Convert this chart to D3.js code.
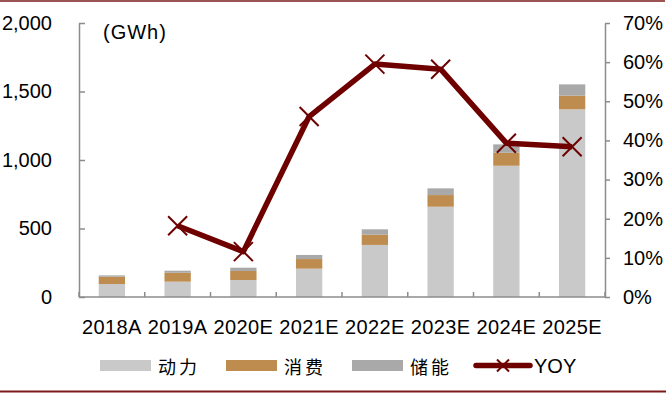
<!DOCTYPE html>
<html>
<head>
<meta charset="utf-8">
<script src="https://cdn.jsdelivr.net/npm/d3@7"></script>
<style>
    body { margin: 0; background: #fff; }
    svg { display: block; }
</style>
</head>
<body>
<svg id="chart" width="668" height="394"></svg>
<script>

var categories = [ '2018A', '2019A', '2020E', '2021E', '2022E', '2023E', '2024E', '2025E' ];

// GWh
var power_values = [ 95, 112, 124, 207, 380, 659, 958, 1370 ];
var consumer_values = [ 53, 65, 66, 70, 75, 85, 95, 100 ];
var storage_values = [ 10, 15, 24, 30, 39, 49, 61, 82 ];

// %
var yoy_values = [ null, 18.2, 11.6, 46.1, 59.5, 58.2, 39.3, 38.4 ];

var left_ticks = [ 0, 500, 1000, 1500, 2000 ];
var right_ticks = [ 0, 10, 20, 30, 40, 50, 60, 70 ];

var series_names = [ '动力', '消费', '储能' ];
var line_name = 'YOY';
var unit_text = '(GWh)';

var _colors = [ '#c9c9c9', '#bf8c4f', '#a9a9a9' ];
var _line_color = '#6e0000';
var _axis_color = '#8c8c8c';
var _text_color = '#000';
var _font = 'Arial, "Liberation Sans", sans-serif';
var _cjk_font = '"Noto Sans CJK SC", sans-serif';

var _svg = d3.select( '#chart' );

var _left = 79, _right = 605, _top = 23, _bottom = 297;

var _x = d3.scaleBand()
    .domain( categories )
    .range( [ _left, _right ] )
    .paddingInner( 0.6 )
    .paddingOuter( 0.3 );

var _y_left = d3.scaleLinear().domain( [ 0, 2000 ] ).range( [ _bottom, _top ] );
var _y_right = d3.scaleLinear().domain( [ 0, 70 ] ).range( [ _bottom, _top ] );

draw_rules();
draw_bars();
draw_axes();
draw_line();
draw_legend();

function draw_rules () {

    _svg.append( 'line' )
        .attr( 'x1', 0 ).attr( 'x2', 665 )
        .attr( 'y1', 1 ).attr( 'y2', 1 )
        .attr( 'stroke', '#7a1a1a' )
        .attr( 'stroke-width', 1.5 );

    _svg.append( 'line' )
        .attr( 'x1', 0 ).attr( 'x2', 666 )
        .attr( 'y1', 391.5 ).attr( 'y2', 391.5 )
        .attr( 'stroke', '#7a1a1a' )
        .attr( 'stroke-width', 2 );

}

function draw_bars () {

    var rows = categories.map( function ( c, i ) {
        return { category: c, power: power_values[ i ], consumer: consumer_values[ i ], storage: storage_values[ i ] };
    });

    var stacked = d3.stack().keys( [ 'power', 'consumer', 'storage' ] )( rows );

    var groups = _svg.append( 'g' )
        .selectAll( 'g' )
        .data( stacked )
        .join( 'g' )
        .attr( 'fill', function ( d, i ) { return _colors[ i ]; } );

    groups.selectAll( 'rect' )
        .data( function ( d ) { return d; } )
        .join( 'rect' )
        .attr( 'x', function ( d ) { return _x( d.data.category ); } )
        .attr( 'width', _x.bandwidth() )
        .attr( 'y', function ( d ) { return _y_left( d[ 1 ] ); } )
        .attr( 'height', function ( d ) { return _y_left( d[ 0 ] ) - _y_left( d[ 1 ] ); } );

}

function draw_axes () {

    // Left axis, ticks point inward
    var left = _svg.append( 'g' )
        .attr( 'transform', 'translate(' + _left + ',0)' )
        .call( d3.axisLeft( _y_left )
            .tickValues( left_ticks )
            .tickSize( -6 )
            .tickSizeOuter( 0 )
            .tickPadding( 27 )
            .tickFormat( d3.format( ',' ) ) );

    // Right axis
    var right = _svg.append( 'g' )
        .attr( 'transform', 'translate(' + _right + ',0)' )
        .call( d3.axisRight( _y_right )
            .tickValues( right_ticks )
            .tickSize( 5 )
            .tickSizeOuter( 0 )
            .tickPadding( 13 )
            .tickFormat( function ( d ) { return d + '%'; } ) );

    // Category labels
    var bottom = _svg.append( 'g' )
        .attr( 'transform', 'translate(0,' + _bottom + ')' )
        .call( d3.axisBottom( _x ).tickSize( 0 ).tickPadding( 23 ) );

    bottom.select( '.domain' ).remove();

    // Category boundary ticks
    var boundaries = d3.range( categories.length + 1 ).map( function ( i ) {
        return _x.range()[ 0 ] + i * _x.step();
    });

    _svg.append( 'g' )
        .selectAll( 'line' )
        .data( boundaries )
        .join( 'line' )
        .attr( 'x1', function ( d ) { return d; } )
        .attr( 'x2', function ( d ) { return d; } )
        .attr( 'y1', _bottom )
        .attr( 'y2', _bottom - 5 )
        .attr( 'stroke', _axis_color )
        .attr( 'stroke-width', 1.5 );

    _svg.append( 'line' )
        .attr( 'x1', _left ).attr( 'x2', _right )
        .attr( 'y1', _bottom ).attr( 'y2', _bottom )
        .attr( 'stroke', _axis_color )
        .attr( 'stroke-width', 1.5 );

    [ left, right, bottom ].forEach( function ( g ) {

        g.selectAll( '.domain, .tick line' )
            .attr( 'stroke', _axis_color )
            .attr( 'stroke-width', 1.5 );

        g.selectAll( 'text' )
            .attr( 'fill', _text_color )
            .style( 'font-family', _font )
            .style( 'font-size', '20px' );

    });

    bottom.selectAll( 'text' ).style( 'letter-spacing', '0.4px' );

    _svg.append( 'text' )
        .attr( 'x', 103 )
        .attr( 'y', 39 )
        .attr( 'fill', _text_color )
        .style( 'font-family', _font )
        .style( 'font-size', '20px' )
        .style( 'letter-spacing', '1px' )
        .text( unit_text );

}

function draw_line () {

    var points = categories.map( function ( c, i ) {
        return { category: c, value: yoy_values[ i ] };
    }).filter( function ( d ) { return d.value !== null; } );

    var line = d3.line()
        .x( function ( d ) { return _x( d.category ) + _x.bandwidth() / 2; } )
        .y( function ( d ) { return _y_right( d.value ); } );

    _svg.append( 'path' )
        .datum( points )
        .attr( 'd', line )
        .attr( 'fill', 'none' )
        .attr( 'stroke', _line_color )
        .attr( 'stroke-width', 5.5 )
        .attr( 'stroke-linejoin', 'round' );

    _svg.append( 'g' )
        .selectAll( 'path' )
        .data( points )
        .join( 'path' )
        .attr( 'transform', function ( d ) {
            return 'translate(' + ( _x( d.category ) + _x.bandwidth() / 2 ) + ',' + _y_right( d.value ) + ')';
        })
        .attr( 'd', 'M-9.5,-9.5L9.5,9.5M-9.5,9.5L9.5,-9.5' )
        .attr( 'stroke', _line_color )
        .attr( 'stroke-width', 2 );

}

function draw_legend () {

    var legend = _svg.append( 'g' );
    var swatch_x = [ 100, 226, 352 ];

    series_names.forEach( function ( name, i ) {

        legend.append( 'rect' )
            .attr( 'x', swatch_x[ i ] )
            .attr( 'y', 360 )
            .attr( 'width', 51 )
            .attr( 'height', 11 )
            .attr( 'fill', _colors[ i ] );

        legend.append( 'text' )
            .attr( 'x', swatch_x[ i ] + 58 )
            .attr( 'y', 365.5 )
            .attr( 'dominant-baseline', 'central' )
            .attr( 'fill', _text_color )
            .style( 'font-family', _cjk_font )
            .style( 'font-size', '18px' )
            .style( 'letter-spacing', '3px' )
            .text( name );

    });

    legend.append( 'line' )
        .attr( 'x1', 476 ).attr( 'x2', 530 )
        .attr( 'y1', 365.5 ).attr( 'y2', 365.5 )
        .attr( 'stroke', _line_color )
        .attr( 'stroke-width', 5.5 )
        .attr( 'stroke-linecap', 'round' );

    legend.append( 'path' )
        .attr( 'transform', 'translate(503,365.5)' )
        .attr( 'd', 'M-6,-6L6,6M-6,6L6,-6' )
        .attr( 'stroke', _line_color )
        .attr( 'stroke-width', 2 );

    legend.append( 'text' )
        .attr( 'x', 534 )
        .attr( 'y', 365.5 )
        .attr( 'dominant-baseline', 'central' )
        .attr( 'fill', _text_color )
        .style( 'font-family', _font )
        .style( 'font-size', '20px' )
        .text( line_name );

}

</script>
</body>
</html>
